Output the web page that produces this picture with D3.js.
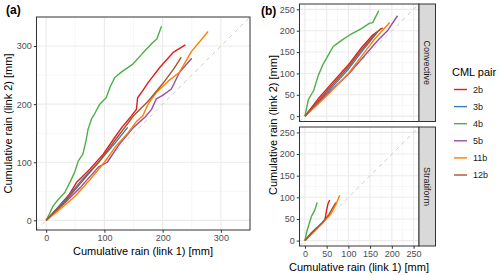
<!DOCTYPE html>
<html><head><meta charset="utf-8">
<script src="https://cdn.jsdelivr.net/npm/d3@7"></script>
<style>body{margin:0;background:#fff}svg{display:block}text{font-family:"Liberation Sans",Arial,sans-serif}</style>
</head><body><svg id="c" width="500" height="275"></svg>
<script>
const seriesNames = ["2b","3b","4b","5b","11b","12b"];
const seriesColors = ["#E41A1C","#377EB8","#4DAF4A","#984EA3","#FF7F00","#A65628"];
const ticksA = [0,100,200,300];
const ticksB = [0,50,100,150,200,250];
const facetNames = ["Convective","Stratiform"];

// Panel (a): [link1, link2] cumulative rain
const a_2b = [[0,0],[20,22],[40,45],[52,65],[65,78],[75,88],[98,114],[118,143],[130,160],[145,178],[155,191],[157,211],[165,222],[175,237],[195,263],[218,289],[239,302]];
const a_3b = [[0,0],[30,32],[60,68],[90,100],[120,135],[140,160]];
const a_4b = [[0,0],[5,10],[12,25],[20,35],[32,48],[42,68],[49,83],[55,102],[63,114],[68,135],[72,157],[78,175],[83,183],[92,200],[103,211],[110,230],[118,246],[130,256],[149,269],[165,287],[183,306],[190,312],[198,334]];
const a_5b = [[0,0],[30,28],[60,58],[90,92],[105,100],[125,130],[150,160],[170,178],[181,191],[189,209],[200,215],[215,226],[229,255],[250,279]];
const a_11b = [[0,0],[25,20],[50,42],[75,70],[100,100],[120,128],[140,150],[155,170],[166,180],[175,200],[189,220],[210,240],[229,255],[249,290],[278,325]];
const a_12b = [[0,0],[30,30],[60,65],[90,100],[120,140],[150,180],[175,205],[200,235],[220,262],[232,281]];

// Panel (b) Convective
const c_2b = [[0,0],[30,40],[60,75],[103,124],[130,160],[156,190],[179,207]];
const c_3b = [[0,0],[30,32],[60,65],[100,110],[130,150],[168,198]];
const c_4b = [[0,0],[8,39],[20,60],[31,96],[42,122],[55,145],[65,163],[85,178],[103,190],[130,205],[148,217],[156,219],[170,247]];
const c_5b = [[0,0],[30,30],[60,60],[100,98],[140,145],[170,180],[190,200],[213,235]];
const c_11b = [[0,0],[30,28],[60,58],[100,100],[130,140],[160,180],[195,219]];
const c_12b = [[0,0],[30,35],[60,70],[100,115],[130,155],[160,190],[175,205]];

// Panel (b) Stratiform
const s_2b = [[0,0],[15,18],[27,28],[40,40],[46,48],[50,71],[53,85],[57,94]];
const s_3b = [[0,0],[15,17],[27,30]];
const s_4b = [[0,0],[4,20],[8,33],[15,56],[23,71],[28,88]];
const s_5b = [[0,0],[15,15],[29,29]];
const s_11b = [[0,0],[20,20],[40,40],[60,62],[72,85],[80,105]];
const s_12b = [[0,0],[20,22],[40,42],[55,60],[65,78],[71,88]];

const svg = d3.select("#c");
const color = d3.scaleOrdinal().domain(seriesNames).range(seriesColors);

function panel(g, xs, ys, ticks, minor, data, showX, showY){
  const [x0,x1] = xs.range(), [y0,y1] = ys.range();
  g.append("rect").attr("x",x0).attr("y",y1).attr("width",x1-x0).attr("height",y0-y1).attr("fill","#fff");
  minor.forEach(v=>{
    g.append("line").attr("x1",xs(v)).attr("x2",xs(v)).attr("y1",y0).attr("y2",y1).attr("stroke","#F2F2F2").attr("stroke-width",0.6);
    g.append("line").attr("y1",ys(v)).attr("y2",ys(v)).attr("x1",x0).attr("x2",x1).attr("stroke","#F2F2F2").attr("stroke-width",0.6);
  });
  ticks.forEach(v=>{
    g.append("line").attr("x1",xs(v)).attr("x2",xs(v)).attr("y1",y0).attr("y2",y1).attr("stroke","#EBEBEB").attr("stroke-width",1.1);
    g.append("line").attr("y1",ys(v)).attr("y2",ys(v)).attr("x1",x0).attr("x2",x1).attr("stroke","#EBEBEB").attr("stroke-width",1.1);
  });
  const xd = xs.domain();
  g.append("line").attr("x1",xs(xd[0])).attr("y1",ys(xd[0])).attr("x2",xs(xd[1])).attr("y2",ys(xd[1]))
    .attr("stroke","#CCCCCC").attr("stroke-width",1).attr("stroke-dasharray","4,4");
  const line = d3.line().x(d=>xs(d[0])).y(d=>ys(d[1]));
  data.forEach((d,i)=>{
    g.append("path").attr("d",line(d)).attr("fill","none").attr("stroke",color(seriesNames[i])).attr("stroke-width",1.4).attr("stroke-linejoin","round");
  });
  g.append("rect").attr("x",x0).attr("y",y1).attr("width",x1-x0).attr("height",y0-y1).attr("fill","none").attr("stroke","#333333").attr("stroke-width",1);
  if(showX){
    const ax = g.append("g").attr("transform",`translate(0,${y0})`).call(d3.axisBottom(xs).tickValues(ticks).tickSize(2.75).tickPadding(2));
    ax.select(".domain").remove();
    ax.selectAll("line").attr("stroke","#333");
    ax.selectAll("text").attr("fill","#4D4D4D").style("font-size","9px").style("font-family","Liberation Sans, Arial, sans-serif");
  }
  if(showY){
    const ay = g.append("g").attr("transform",`translate(${x0},0)`).call(d3.axisLeft(ys).tickValues(ticks).tickSize(2.75).tickPadding(2));
    ay.select(".domain").remove();
    ay.selectAll("line").attr("stroke","#333");
    ay.selectAll("text").attr("fill","#4D4D4D").style("font-size","9px").style("font-family","Liberation Sans, Arial, sans-serif");
  }
}

// Panel a
const xa = d3.scaleLinear().domain([-16.6,350]).range([36.5,250]);
const ya = d3.scaleLinear().domain([-16.6,350]).range([230,17]);
panel(svg.append("g"), xa, ya, ticksA, [50,150,250], [a_2b,a_3b,a_4b,a_5b,a_11b,a_12b], true, true);
svg.append("text").attr("x",6).attr("y",14).text("(a)").style("font-weight","bold").style("font-size","12px");
svg.append("text").attr("x",143).attr("y",255).attr("text-anchor","middle").style("font-size","11px").text("Cumulative rain (link 1) [mm]");
svg.append("text").attr("transform","translate(12,123.5) rotate(-90)").attr("text-anchor","middle").style("font-size","11px").text("Cumulative rain (link 2) [mm]");

// Panel b
const xb = d3.scaleLinear().domain([-12.5,262.5]).range([299.5,419]);
const yb1 = d3.scaleLinear().domain([-12.5,262.5]).range([121.5,4]);
const yb2 = d3.scaleLinear().domain([-12.5,262.5]).range([246,127]);
panel(svg.append("g"), xb, yb1, ticksB, [25,75,125,175,225], [c_2b,c_3b,c_4b,c_5b,c_11b,c_12b], false, true);
panel(svg.append("g"), xb, yb2, ticksB, [25,75,125,175,225], [s_2b,s_3b,s_4b,s_5b,s_11b,s_12b], true, true);
[[4,121.5],[127,246]].forEach((r,i)=>{
  svg.append("rect").attr("x",419).attr("y",r[0]).attr("width",16.5).attr("height",r[1]-r[0]).attr("fill","#D9D9D9").attr("stroke","#333333").attr("stroke-width",1);
  svg.append("text").attr("transform",`translate(427.2,${(r[0]+r[1])/2}) rotate(90)`).attr("text-anchor","middle").attr("dy","0.35em").style("font-size","9px").attr("fill","#1A1A1A").text(facetNames[i]);
});
svg.append("text").attr("x",261).attr("y",15).text("(b)").style("font-weight","bold").style("font-size","12px");
svg.append("text").attr("x",359).attr("y",271).attr("text-anchor","middle").style("font-size","11px").text("Cumulative rain (link 1) [mm]");
svg.append("text").attr("transform","translate(277,125) rotate(-90)").attr("text-anchor","middle").style("font-size","11px").text("Cumulative rain (link 2) [mm]");

// Legend
const lg = svg.append("g");
lg.append("text").attr("x",452).attr("y",76).style("font-size","11px").text("CML pair");
seriesNames.forEach((n,i)=>{
  const y = 89.5 + i*17.1;
  lg.append("line").attr("x1",454).attr("x2",467).attr("y1",y).attr("y2",y).attr("stroke",color(n)).attr("stroke-width",1.4);
  lg.append("text").attr("x",473).attr("y",y).attr("dy","0.35em").style("font-size","9px").attr("fill","#1A1A1A").text(n);
});
</script></body></html>
